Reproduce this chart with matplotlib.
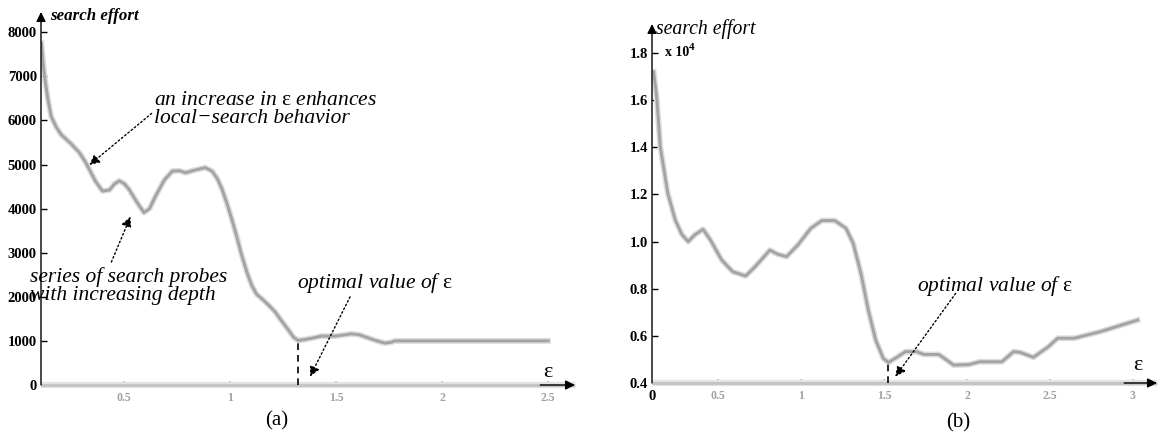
import matplotlib
matplotlib.use("Agg")
import matplotlib.pyplot as plt

# (a) search effort vs epsilon
eps_a = [0.11, 0.118, 0.125, 0.14, 0.156, 0.18, 0.203, 0.25, 0.289, 0.315, 0.336,
         0.365, 0.398, 0.43, 0.455, 0.477, 0.5, 0.523, 0.56, 0.594, 0.62, 0.649,
         0.69, 0.727, 0.76, 0.79, 0.83, 0.883, 0.915, 0.94, 0.962, 0.985, 1.008,
         1.03, 1.055, 1.08, 1.102, 1.125, 1.149, 1.18, 1.212, 1.245, 1.275, 1.3,
         1.322, 1.35, 1.384, 1.431, 1.5, 1.572, 1.61, 1.635, 1.68, 1.729, 1.76,
         1.776, 2.0, 2.5]
effort_a = [7750, 7300, 6990, 6500, 6090, 5850, 5680, 5470, 5270, 5080, 4890,
            4620, 4400, 4420, 4560, 4630, 4570, 4440, 4150, 3910, 4000, 4290,
            4650, 4850, 4860, 4815, 4870, 4930, 4850, 4680, 4440, 4120, 3760,
            3390, 2940, 2550, 2260, 2060, 1960, 1820, 1660, 1440, 1250, 1080,
            1010, 1030, 1060, 1110, 1110, 1160, 1140, 1095, 1020, 950, 970,
            1000, 1000, 1000]

# (b) search effort (x 10^4) vs epsilon
eps_b = [0.11, 0.128, 0.15, 0.195, 0.24, 0.28, 0.318, 0.36, 0.408, 0.452, 0.52,
         0.587, 0.665, 0.721, 0.811, 0.855, 0.911, 0.979, 1.057, 1.124, 1.202,
         1.27, 1.313, 1.36, 1.404, 1.449, 1.494, 1.526, 1.583, 1.628, 1.695,
         1.74, 1.83, 1.919, 2.009, 2.076, 2.21, 2.28, 2.32, 2.4, 2.49, 2.546,
         2.647, 2.804, 3.028]
effort_b = [1.72, 1.615, 1.402, 1.205, 1.092, 1.03, 1.0, 1.03, 1.052, 1.007, 0.922,
            0.872, 0.854, 0.893, 0.964, 0.947, 0.936, 0.985, 1.056, 1.089, 1.089,
            1.056, 0.993, 0.865, 0.71, 0.582, 0.505, 0.487, 0.512, 0.533, 0.533,
            0.521, 0.521, 0.476, 0.478, 0.49, 0.49, 0.533, 0.53, 0.509, 0.554, 0.59,
            0.59, 0.618, 0.667]

opt_a, opt_effort_a = 1.322, 1010
opt_b, opt_effort_b = 1.52, 0.487

yticks_a = [0, 1000, 2000, 3000, 4000, 5000, 6000, 7000, 8000]
yticks_b = [0.4, 0.6, 0.8, 1.0, 1.2, 1.4, 1.6, 1.8]
xticks_a = [0.5, 1, 1.5, 2, 2.5]
xticks_b = [0.5, 1, 1.5, 2, 2.5, 3]

SERIF = "Liberation Serif"
plt.rcParams["mathtext.fontset"] = "custom"
plt.rcParams["mathtext.rm"] = SERIF
plt.rcParams["mathtext.it"] = SERIF + ":italic"
W, H = 1158, 438
CURVE = "#a4a4a4"
EPS = r"$\mathrm{\u03b5}$".replace(r"\u03b5", "\u03b5")


def px_axes(fig, left, right, bottom, top):
    return fig.add_axes([left / W, 1 - bottom / H, (right - left) / W, (bottom - top) / H])


def style_axes(ax, xticks, yticks, ylabels):
    for s in ax.spines.values():
        s.set_visible(False)
    ax.patch.set_visible(False)
    ax.set_yticks(yticks)
    ax.set_yticklabels(ylabels, fontfamily=SERIF, fontweight="bold", fontsize=10.5)
    ax.tick_params(axis="y", direction="in", length=4, width=1, color="k", pad=3)
    ax.set_xticks(xticks)
    ax.set_xticklabels([f"{v:g}" for v in xticks], fontfamily=SERIF,
                       fontweight="bold", fontsize=8.5, color="#a0a0a0")
    ax.tick_params(axis="x", direction="in", length=3, width=1.5, color="#c4c4c4", pad=5)
    # x axis: grey band with a black arrow at its end
    ax.plot([0, 1], [0, 0], transform=ax.transAxes, color="#e2e2e2", lw=4.5,
            clip_on=False, solid_capstyle="butt")
    ax.plot([0, 1], [0, 0], transform=ax.transAxes, color="#c2c2c2", lw=2,
            clip_on=False, solid_capstyle="butt")
    ax.annotate("", xy=(1, 0), xytext=(0.935, 0), xycoords="axes fraction",
                arrowprops=dict(arrowstyle="-|>", color="k", lw=1,
                                mutation_scale=14, shrinkA=0, shrinkB=0))
    # y axis with arrow head
    ax.annotate("", xy=(0, 1), xytext=(0, 0), xycoords="axes fraction",
                arrowprops=dict(arrowstyle="-|>", color="k", lw=1,
                                mutation_scale=14, shrinkA=0, shrinkB=0))


def dotted_arrow(ax, head, tail):
    ax.annotate("", xy=head, xytext=tail,
                arrowprops=dict(arrowstyle="-|>", ls=(0, (1.2, 1.8)), color="k",
                                lw=1, mutation_scale=15, shrinkA=0, shrinkB=0))


def draw_curve(ax, x, y):
    ax.plot(x, y, color="#dddddd", lw=4.2, solid_joinstyle="round")
    ax.plot(x, y, color=CURVE, lw=2.1, solid_joinstyle="round")


fig = plt.figure(figsize=(W / 100, H / 100), dpi=100)
txt = dict(fontfamily=SERIF, fontstyle="italic", fontsize=15.5, linespacing=0.95)

# ---------- (a) ----------
ax1 = px_axes(fig, 41, 575, 385, 12)
ax1.set_xlim(0.108, 2.627)
ax1.set_ylim(0, 8460)
style_axes(ax1, xticks_a, yticks_a, [str(v) for v in yticks_a])
draw_curve(ax1, eps_a, effort_a)
ax1.plot([opt_a, opt_a], [0, opt_effort_a], color="k", lw=1.2, ls=(0, (4, 3)))

ax1.text(0.15, 8367, "search effort", fontfamily=SERIF, fontstyle="italic",
         fontweight="bold", fontsize=12.2, va="center", ha="left")
ax1.text(0.64, 6250, f"an increase in {EPS} enhances\nlocal\u2212search behavior",
         va="center", ha="left", **txt)
dotted_arrow(ax1, (0.336, 4990), (0.63, 6160))
ax1.text(0.056, 2245, "series of search probes\nwith increasing depth",
         va="center", ha="left", **txt)
dotted_arrow(ax1, (0.53, 3820), (0.44, 2790))
ax1.text(1.316, 2313, f"optimal value of {EPS}", va="center", ha="left", **txt)
dotted_arrow(ax1, (1.377, 190), (1.566, 2000))
ax1.text(2.50, 290, "\u03b5", fontfamily=SERIF, fontsize=16, ha="center", va="center")

# ---------- (b) ----------
ax2 = px_axes(fig, 652, 1157, 383, 24)
ax2.set_xlim(0.1, 3.145)
ax2.set_ylim(0.4, 1.923)
style_axes(ax2, xticks_b, yticks_b, [f"{v:.1f}" for v in yticks_b])
draw_curve(ax2, eps_b, effort_b)
ax2.plot([opt_b, opt_b], [0.4, opt_effort_b], color="k", lw=1.2, ls=(0, (4, 3)))

ax2.text(0.124, 1.902, "search effort", fontfamily=SERIF, fontstyle="italic",
         fontsize=14.2, va="center", ha="left")
ax2.text(0.18, 1.8, "x 10", fontfamily=SERIF, fontweight="bold", fontsize=10,
         va="center", ha="left")
ax2.annotate("4", xy=(0.18, 1.8), xytext=(17, 4), textcoords="offset points",
             fontfamily=SERIF, fontweight="bold", fontsize=8, va="center", ha="left")
ax2.text(0.1, 0.372, "0", fontfamily=SERIF, fontweight="bold", fontsize=10.5,
         ha="center", va="top")
ax2.text(1.695, 0.812, f"optimal value of {EPS}", va="center", ha="left", **txt)
dotted_arrow(ax2, (1.567, 0.427), (1.931, 0.78))
ax2.text(3.03, 0.476, "\u03b5", fontfamily=SERIF, fontsize=16, ha="center", va="center")

fig.text(277 / W, 1 - 421 / H, "(a)", fontfamily=SERIF, fontsize=15, ha="center", va="center")
fig.text(958 / W, 1 - 423 / H, "(b)", fontfamily=SERIF, fontsize=15, ha="center", va="center")

fig.savefig("out.png", dpi=100)
